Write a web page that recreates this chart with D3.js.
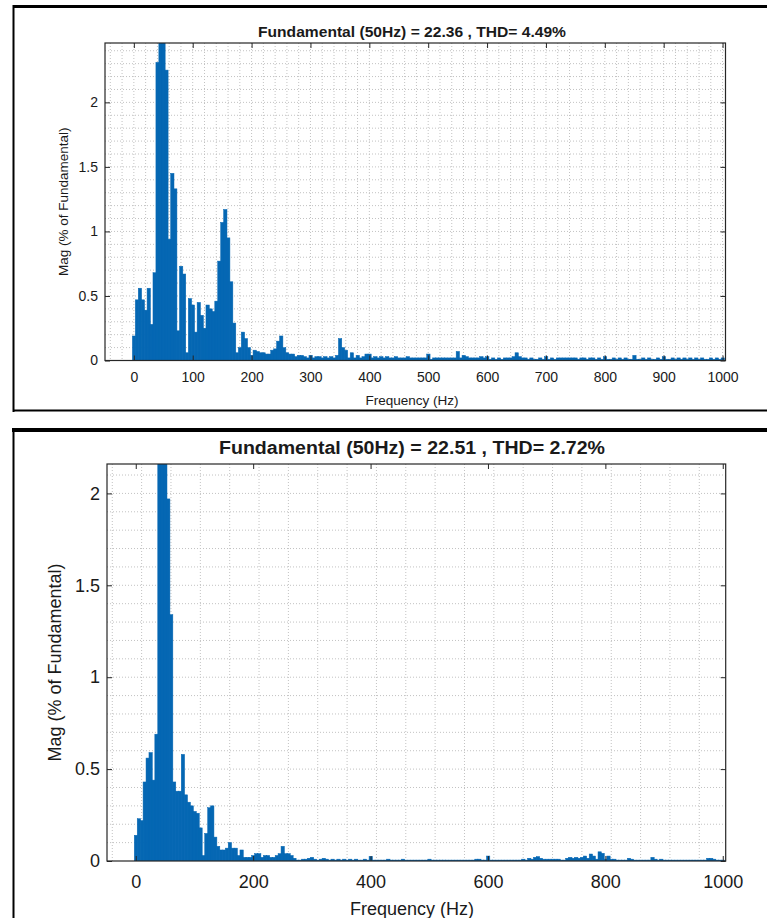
<!DOCTYPE html>
<html lang="en">
<head>
<meta charset="UTF-8">
<title>FFT Analysis</title>
<script src="https://cdn.jsdelivr.net/npm/d3@7"></script>
<style>
    body { margin: 0; background: #fff; }
    svg text { font-family: Arial, "Liberation Sans", sans-serif; fill: #1a1a1a; }
    .grid line { stroke: #c2c2c2; stroke-width: 1; stroke-dasharray: 1, 2; }
    .frame { stroke: #000; fill: none; }
</style>
</head>
<body>
<svg id="chart" width="767" height="918"></svg>
<script>
// ---------------- data (magnitude in % of fundamental, one bin every 5 Hz, 0..1000 Hz) ----------------
const binStep = 5;

const magTop = [
    0.19, 0.47, 0.56, 0.47, 0.39, 0.56, 0.28, 0.68, 2.31, 2.6,
    100, 2.25, 0.94, 1.45, 1.33, 0.23, 0.73, 0.67, 0.06, 0.48,
    0.43, 0.22, 0.45, 0.35, 0.25, 0.43, 0.40, 0.38, 0.46, 0.77,
    1.07, 1.17, 0.95, 0.61, 0.29, 0.06, 0.10, 0.22, 0.17, 0.10,
    0.04, 0.08, 0.07, 0.06, 0.06, 0.05, 0.05, 0.08, 0.09, 0.15,
    0.19, 0.10,
    0.06, 0.05, 0.05, 0.03, 0.04, 0.04, 0.03, 0.02, 0.04, 0.02,
    0.03, 0.03, 0.02, 0.03, 0.02, 0.03, 0.02, 0.04, 0.17, 0.10,
    0.08, 0.02, 0.06, 0.02, 0.04, 0.02, 0.03, 0.05, 0.05, 0.02,
    0.03, 0.02, 0.03, 0.02, 0.03, 0.02, 0.02, 0.03, 0.02, 0.02,
    0.02, 0.03, 0.02, 0.02, 0.02, 0.02, 0.02, 0.02, 0.05, 0.01,
    0.02, 0.02, 0.02, 0.02, 0.02, 0.02, 0.02, 0.02, 0.07, 0.02,
    0.04, 0.03, 0.02, 0.02, 0.02, 0.02, 0.03, 0.02, 0.03, 0.01,
    0.02, 0.01, 0.02, 0.01, 0.02, 0.02, 0.02, 0.03, 0.06, 0.03,
    0.02, 0.02, 0.01, 0.02, 0.01, 0.01, 0.02, 0.01, 0.03, 0.01,
    0.02, 0.01, 0.02, 0.02, 0.02, 0.02, 0.02, 0.02, 0.02, 0.01,
    0.02, 0.02, 0.01, 0.02, 0.02, 0.01, 0.02, 0.01, 0.03, 0.01,
    0.01, 0.02, 0.01, 0.02, 0.01, 0.02, 0.01, 0.01, 0.04, 0.01,
    0.01, 0.02, 0.01, 0.02, 0.01, 0.01, 0.02, 0.01, 0.03, 0.01,
    0.01, 0.02, 0.01, 0.02, 0.01, 0.02, 0.01, 0.02, 0.01, 0.02,
    0.01, 0.02, 0.01, 0.01, 0.02, 0.01, 0.02, 0.01, 0.02
];

const magBottom = [
    0.14, 0.23, 0.22, 0.43, 0.56, 0.59, 0.44, 0.69, 2.4, 3.0,
    100, 1.97, 1.34, 0.43, 0.38, 0.38, 0.58, 0.36, 0.32, 0.30,
    0.27, 0.26, 0.18, 0.03, 0.15, 0.29, 0.30, 0.13, 0.08, 0.06,
    0.06, 0.07, 0.10, 0.07, 0.07, 0.03, 0.06, 0.02, 0.02, 0.02,
    0.03, 0.04, 0.04, 0.02, 0.03, 0.03, 0.02, 0.02, 0.03, 0.04,
    0.08, 0.04, 0.04, 0.03, 0.015, 0.005, 0.005, 0.01, 0.01, 0.015,
    0.02, 0.01,
    0.005, 0.01, 0.015, 0.01, 0.005, 0.01, 0.005, 0.01, 0.005, 0.01,
    0.005, 0.01, 0.005, 0.01, 0.005, 0.005, 0.01, 0.005, 0.025, 0.005,
    0.005, 0.005, 0.005, 0.005, 0.01, 0.005, 0.005, 0.005, 0.005, 0.01,
    0.005, 0.005, 0.005, 0.005, 0.005, 0.005, 0.005, 0.005, 0.01, 0.005,
    0.005, 0.005, 0.005, 0.005, 0.005, 0.005, 0.005, 0.005, 0.005, 0.005,
    0.005, 0.005, 0.005, 0.005, 0.01, 0.01, 0.005, 0.005, 0.027, 0.005,
    0.005, 0.005, 0.005, 0.005, 0.005, 0.005, 0.005, 0.005, 0.005, 0.005,
    0.01, 0.005, 0.015, 0.01, 0.02, 0.024, 0.015, 0.01, 0.01, 0.01,
    0.01, 0.01, 0.01, 0.005, 0.005, 0.015, 0.02, 0.015, 0.02, 0.015,
    0.02, 0.027, 0.015, 0.038, 0.027, 0.01, 0.05, 0.042, 0.01, 0.027,
    0.01, 0.01, 0.005, 0.005, 0.005, 0.005, 0.015, 0.01, 0.005, 0.005,
    0.005, 0.005, 0.005, 0.005, 0.02, 0.01, 0.005, 0.01, 0.005, 0.005,
    0.005, 0.005, 0.005, 0.005, 0.005, 0.005, 0.005, 0.005, 0.005, 0.005,
    0.005, 0.005, 0.005, 0.015, 0.015, 0.01, 0.005, 0.005, 0.005
];

const titleTop = "Fundamental (50Hz) = 22.36 , THD= 4.49%";
const titleBottom = "Fundamental (50Hz) = 22.51 , THD= 2.72%";
const xLabel = "Frequency (Hz)";
const yLabel = "Mag (% of Fundamental)";
const xTicksTop = [0, 100, 200, 300, 400, 500, 600, 700, 800, 900, 1000];
const xTicksBottom = [0, 200, 400, 600, 800, 1000];
const yTicks = [0, 0.5, 1, 1.5, 2];

// ---------------- layout ----------------
const barColor = "#0567b3";
const svg = d3.select("#chart");

// outer frames of the two screenshots
svg.append("line").attr("class", "frame").attr("x1", 13).attr("x2", 767).attr("y1", 6.5).attr("y2", 6.5).attr("stroke-width", 3);
svg.append("line").attr("class", "frame").attr("x1", 13.5).attr("x2", 13.5).attr("y1", 5).attr("y2", 412).attr("stroke-width", 2);
svg.append("line").attr("class", "frame").attr("x1", 13).attr("x2", 767).attr("y1", 410.5).attr("y2", 410.5).attr("stroke-width", 2);
svg.append("line").attr("class", "frame").attr("x1", 12).attr("x2", 767).attr("y1", 430).attr("y2", 430).attr("stroke-width", 4);
svg.append("line").attr("class", "frame").attr("x1", 13.5).attr("x2", 13.5).attr("y1", 428).attr("y2", 918).attr("stroke-width", 2);

function drawPanel(cfg) {
    const g = svg.append("g");
    const x = d3.scaleLinear().domain([-49, 1005]).range([cfg.left, cfg.right]);
    const y = d3.scaleLinear().domain([0, cfg.yMax]).range([cfg.bottom, cfg.top]);

    // dotted grid (minor + major)
    const grid = g.append("g").attr("class", "grid");
    grid.selectAll(".gx")
        .data(d3.range(-40, 1001, cfg.xMinor).filter(v => x(v) > cfg.left + 1 && x(v) < cfg.right - 1))
        .join("line")
        .attr("x1", d => x(d)).attr("x2", d => x(d))
        .attr("y1", cfg.top).attr("y2", cfg.bottom);
    grid.selectAll(".gy")
        .data(d3.range(1, Math.floor(cfg.yMax * 10) + 1).map(k => k / 10))
        .join("line")
        .attr("x1", cfg.left).attr("x2", cfg.right)
        .attr("y1", d => y(d)).attr("y2", d => y(d));

    // bars (slightly widened so neighbours touch, like the filled MATLAB bars)
    const clipId = "clip" + cfg.id;
    g.append("clipPath").attr("id", clipId)
        .append("rect")
        .attr("x", cfg.left).attr("y", cfg.top)
        .attr("width", cfg.right - cfg.left).attr("height", cfg.bottom - cfg.top);
    g.append("g").attr("clip-path", `url(#${clipId})`)
        .selectAll("rect")
        .data(cfg.values)
        .join("rect")
        .attr("x", (d, i) => x(i * binStep - binStep / 2))
        .attr("width", x(binStep) - x(0) + 0.4)
        .attr("y", d => y(d))
        .attr("height", d => cfg.bottom - y(d))
        .attr("fill", barColor)
        .attr("stroke", barColor)
        .attr("stroke-width", 0.5);

    // axes, ticks pointing inward
    const ax = g.append("g").attr("transform", `translate(0,${cfg.bottom})`)
        .call(d3.axisBottom(x).tickValues(cfg.xTicks).tickSizeInner(-5).tickSizeOuter(0)
            .tickPadding(cfg.xPad).tickFormat(d => String(d)));
    const axTop = g.append("g").attr("transform", `translate(0,${cfg.top})`)
        .call(d3.axisTop(x).tickValues(cfg.xTicks).tickSizeInner(-5).tickSizeOuter(0).tickFormat(""));
    const ay = g.append("g").attr("transform", `translate(${cfg.left},0)`)
        .call(d3.axisLeft(y).tickValues(yTicks).tickSizeInner(-5).tickSizeOuter(0)
            .tickPadding(cfg.yPad).tickFormat(d => String(d)));
    const ayR = g.append("g").attr("transform", `translate(${cfg.right},0)`)
        .call(d3.axisRight(y).tickValues(yTicks).tickSizeInner(-5).tickSizeOuter(0).tickFormat(""));
    [ax, axTop, ay, ayR].forEach(a => {
        a.select(".domain").remove();
        a.selectAll("line").attr("stroke", "#262626");
        a.selectAll("text").style("font-size", cfg.tickFont + "px").attr("fill", "#1a1a1a");
    });

    // plot box
    g.append("rect")
        .attr("x", cfg.left).attr("y", cfg.top)
        .attr("width", cfg.right - cfg.left).attr("height", cfg.bottom - cfg.top)
        .attr("fill", "none").attr("stroke", "#262626").attr("stroke-width", 1.2);

    // texts
    g.append("text")
        .attr("x", cfg.titleX).attr("y", cfg.titleY)
        .attr("text-anchor", "middle")
        .attr("textLength", cfg.titleLen).attr("lengthAdjust", "spacingAndGlyphs")
        .style("font-size", cfg.titleFont + "px").style("font-weight", "bold")
        .text(cfg.title);
    g.append("text")
        .attr("x", cfg.titleX).attr("y", cfg.xLabelY)
        .attr("text-anchor", "middle")
        .style("font-size", cfg.labelFont + "px")
        .text(xLabel);
    g.append("text")
        .attr("transform", `translate(${cfg.yLabelX},${(cfg.top + cfg.bottom) / 2}) rotate(-90)`)
        .attr("text-anchor", "middle")
        .style("font-size", cfg.labelFont + "px")
        .text(yLabel);
}

drawPanel({
    id: "Top", values: magTop, title: titleTop, xTicks: xTicksTop,
    left: 105, right: 725.5, top: 43, bottom: 360.5, yMax: 2.46, xMinor: 20,
    tickFont: 14, xPad: 12, yPad: 7, titleFont: 15, titleLen: 308, titleX: 412, titleY: 37,
    labelFont: 13.5, xLabelY: 405, yLabelX: 68
});

drawPanel({
    id: "Bottom", values: magBottom, title: titleBottom, xTicks: xTicksBottom,
    left: 107, right: 725.7, top: 464, bottom: 861, yMax: 2.16, xMinor: 50,
    tickFont: 18, xPad: 14, yPad: 7, titleFont: 18, titleLen: 386, titleX: 412, titleY: 454,
    labelFont: 18, xLabelY: 915, yLabelX: 61
});
</script>
</body>
</html>
